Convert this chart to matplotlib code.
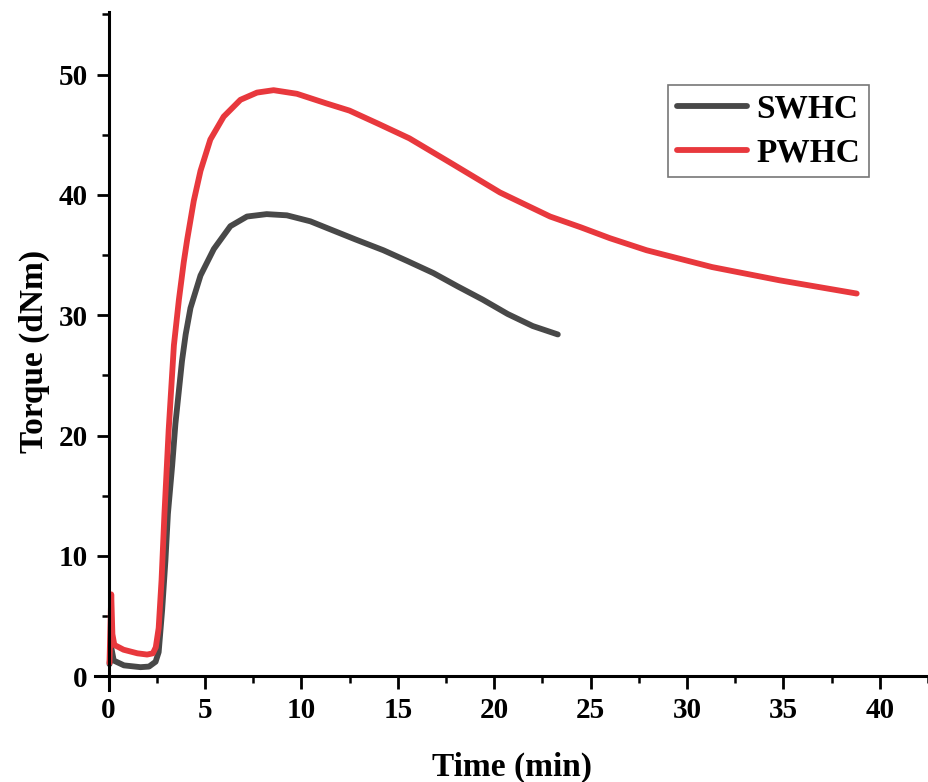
import matplotlib
matplotlib.use("Agg")
import matplotlib.pyplot as plt
from matplotlib.ticker import MultipleLocator

# curve values (time in min, torque in dNm)
swhc_t = [0.05, 0.14, 0.27, 0.8, 1.66, 2.1, 2.44, 2.6, 2.78, 2.95, 3.08, 3.3, 3.47,
          3.81, 4.0, 4.25, 4.77, 5.46, 6.32, 7.18, 8.2, 9.25, 10.47, 11.4, 12.8,
          14.25, 15.5, 16.85, 18.1, 19.4, 20.7, 22.0, 23.3]
swhc_v = [1.0, 2.4, 1.3, 0.9, 0.75, 0.8, 1.2, 2.0, 5.5, 9.6, 13.5, 17.5, 21.0,
          26.2, 28.4, 30.6, 33.3, 35.5, 37.4, 38.2, 38.4, 38.3, 37.8, 37.2, 36.3,
          35.4, 34.5, 33.5, 32.4, 31.3, 30.1, 29.1, 28.4]

pwhc_t = [0.05, 0.14, 0.2, 0.3, 0.78, 1.5, 2.0, 2.3, 2.45, 2.6, 2.75, 2.9, 3.12,
          3.39, 3.65, 3.9, 4.08, 4.42, 4.77, 5.28, 5.97, 6.84, 7.7, 8.56, 9.77,
          11.3, 12.5, 14.0, 15.6, 17.7, 20.3, 22.9, 24.5, 26.0, 27.9, 31.3, 34.8, 38.8]
pwhc_v = [1.1, 6.8, 3.5, 2.6, 2.2, 1.9, 1.8, 1.9, 2.4, 4.0, 8.0, 13.5, 20.5,
          27.5, 31.3, 34.4, 36.3, 39.5, 42.0, 44.6, 46.5, 47.9, 48.5, 48.7, 48.4,
          47.6, 47.0, 45.9, 44.7, 42.7, 40.2, 38.2, 37.3, 36.4, 35.4, 34.0, 32.9, 31.8]

plt.rcParams['font.family'] = ['Liberation Serif', 'DejaVu Serif']
plt.rcParams['font.weight'] = 'bold'

fig = plt.figure(figsize=(9.29, 7.82), dpi=100)
ax = fig.add_axes([0.1023, 0.1176, 0.8977, 0.8671])

ax.plot(swhc_t, swhc_v, color='#484848', lw=4.2, label='SWHC',
        solid_capstyle='round', solid_joinstyle='round')
ax.plot(pwhc_t, pwhc_v, color='#e8383d', lw=4.2, label='PWHC',
        solid_capstyle='round', solid_joinstyle='round')

ax.set_xlim(-0.7, 42.55)
ax.set_ylim(-1.15, 55.2)
ax.spines['left'].set_position(('data', 0))
ax.spines['bottom'].set_position(('data', 0))
ax.spines['top'].set_visible(False)
ax.spines['right'].set_visible(False)
for s in ('left', 'bottom'):
    ax.spines[s].set_linewidth(2.2)

ax.xaxis.set_major_locator(MultipleLocator(5))
ax.xaxis.set_minor_locator(MultipleLocator(2.5))
ax.yaxis.set_major_locator(MultipleLocator(10))
ax.yaxis.set_minor_locator(MultipleLocator(5))
ax.tick_params(which='major', direction='out', length=9, width=2, labelsize=21, pad=6)
ax.tick_params(which='minor', direction='out', length=5, width=1.8)

ax.set_xlabel('Time (min)', fontsize=24, fontweight='bold', labelpad=20)
ax.set_ylabel('Torque (dNm)', fontsize=24, fontweight='bold', labelpad=6)

leg = ax.legend(loc='upper right', bbox_to_anchor=(0.928, 0.892), fontsize=24,
                frameon=True, fancybox=False, edgecolor='#555555', handlelength=2.1,
                borderpad=0.25, labelspacing=0.4, handletextpad=0.3,
                borderaxespad=0)
leg.get_frame().set_linewidth(1.2)
for t in leg.get_texts():
    t.set_fontweight('bold')

fig.savefig('out.png', dpi=100)
